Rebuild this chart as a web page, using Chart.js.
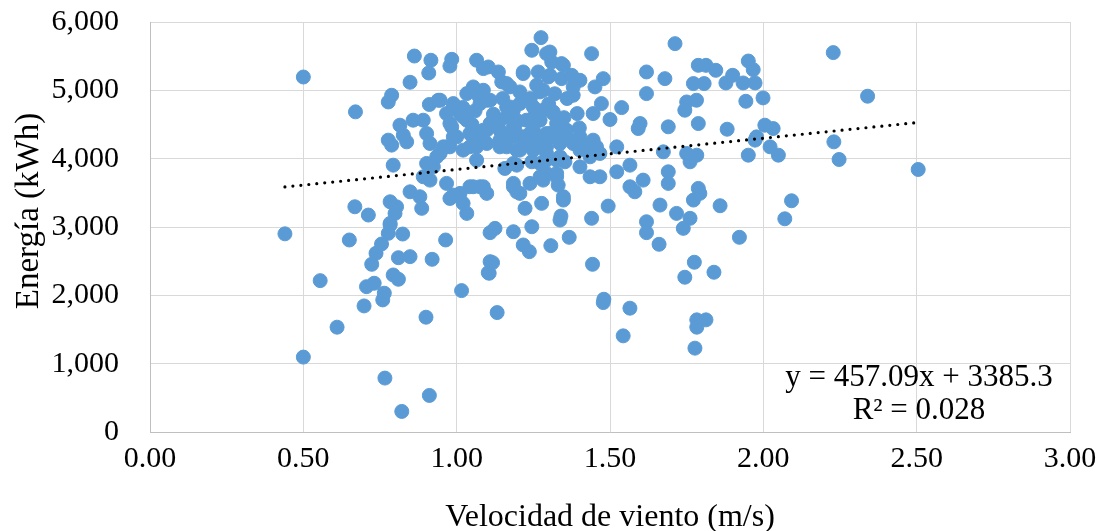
<!DOCTYPE html>
<html>
<head>
<meta charset="utf-8">
<script src="https://cdn.jsdelivr.net/npm/chart.js@4.4.1/dist/chart.umd.min.js"></script>
<style>
  html, body { margin: 0; padding: 0; background: #ffffff; }
  #wrap { width: 1105px; height: 531px; position: relative; }
</style>
</head>
<body>
<div id="wrap"><canvas id="c" width="1105" height="531"></canvas></div>
<script>
// Wind speed (m/s)
const windSpeed = [
  0.44,0.50,0.50,0.555,0.61,0.65,0.67,0.668,0.712,0.698,0.706,0.731,0.764,0.759,0.766,0.821,0.911,0.900,
  0.723,0.737,0.755,0.777,0.783,0.783,0.824,0.810,0.848,0.920,0.964,0.793,0.810,1.016,1.109,1.103,1.109,
  0.783,0.804,0.799,0.848,0.880,0.886,0.978,1.011,1.043,1.087,1.021,1.033,0.793,0.902,0.924,0.891,0.913,
  0.967,1.065,0.956,0.935,0.978,0.989,1.043,1.065,1.087,0.815,0.858,0.891,0.902,0.913,0.826,0.837,0.777,
  0.788,0.989,1.021,0.984,1.033,0.911,0.940,0.788,0.777,0.848,0.862,0.916,0.909,0.984,0.978,1.065,1.087,
  1.070,1.054,1.087,
  1.136,1.103,1.147,1.174,1.206,1.087,1.109,1.076,1.174,1.206,1.250,1.282,1.315,1.163,1.119,1.098,1.141,
  1.185,1.228,1.272,1.326,1.348,1.304,1.239,1.185,1.141,1.098,1.076,1.163,1.206,1.250,1.293,1.337,1.380,
  1.424,1.445,1.456,1.402,1.054,1.033,1.098,1.163,1.217,1.293,0.989,0.967,1.011,0.978,1.000,0.946,1.163,
  1.185,1.141,1.109,1.087,1.054,1.043,1.021,0.967,0.946,1.250,1.217,1.163,1.141,1.196,1.250,1.272,1.293,
  1.185,1.272,1.293,1.054,0.989,1.185,1.206,1.272,1.299,1.282,1.315,1.337,1.359,1.304,1.337,1.380,1.413,
  1.293,1.337,1.402,1.435,1.467,1.522,1.326,1.348,
  1.020,1.060,1.120,1.200,1.250,1.050,1.150,1.220,1.350,1.400,1.300,1.360,1.240,1.150,1.320,1.190,
  1.275,1.245,1.304,1.310,1.342,1.440,1.712,1.619,1.679,1.619,1.788,1.772,1.217,1.266,1.304,1.342,1.375,
  1.402,1.380,1.380,1.272,1.261,1.478,1.451,1.472,1.445,1.538,1.500,1.393,1.598,1.592,1.690,1.750,1.744,
  1.782,1.788,1.348,
  1.157,1.196,1.245,1.293,1.326,1.353,1.402,1.435,1.467,1.522,1.565,1.608,1.565,1.581,1.674,1.690,1.690,
  1.750,1.761,1.772,1.788,1.076,1.098,1.185,1.196,1.239,1.282,1.326,1.331,1.348,1.223,1.277,1.340,1.440,
  1.494,1.619,1.663,1.717,1.761,1.245,1.125,1.185,
  1.217,1.237,1.307,1.367,1.337,1.117,1.106,1.443,1.132,1.480,1.478,1.565,1.543,1.619,1.660,1.739,1.775,
  1.744,1.783,1.813,1.783,1.777,1.922,1.839,2.070,
  2.228,2.340,1.813,1.845,1.807,1.878,1.900,1.934,1.951,1.967,1.973,1.943,1.999,1.882,2.005,2.032,1.978,
  1.973,2.022,2.049,1.951,2.230,2.247,1.783,1.793,1.859,2.092,2.505
];
// Energy (kWh)
const energy = [
  2900,5195,1096,2215,1534,2810,4685,3296,3175,1845,2127,2177,2031,1933,789,301,535,1680,
  2454,2615,2751,2907,3029,3053,2897,2551,2566,2527,2810,2298,2235,2069,2917,2332,2493,
  3369,3296,3199,3515,3443,3273,3418,3492,3589,3589,3346,3199,3905,3930,3881,3735,3686,
  3638,3978,4173,4027,4173,4319,4368,4173,4271,4490,4563,4563,4368,4222,4344,4246,4271,
  4198,4757,4611,4465,4563,4793,4855,4928,4830,5118,5502,5440,5254,5454,5356,5440,5318,
  4930,5050,4903,
  5269,5342,5123,5050,4977,5001,4855,4806,4757,4806,4757,4709,4660,4611,4563,4417,4417,
  4466,4563,4563,4514,4417,4368,4368,4319,4271,4222,4319,4173,4125,4173,4173,4222,4222,
  4173,4271,4173,4319,5026,4952,4855,5099,5245,5537,4806,4660,4660,4514,4319,4855,4757,
  4709,4563,4514,4417,4319,4173,4125,4173,4076,4417,4319,4271,4173,4125,4125,4271,4368,
  3930,3930,3784,3589,3467,3589,3492,3735,5196,5001,4684,4466,4417,4319,4271,4271,4222,
  4076,4027,4125,4027,4076,4173,3784,3443,
  4750,4700,4650,4550,4600,4500,4350,4250,4600,4450,4800,4880,4880,4880,4950,4420,
  5771,5586,5561,5415,5391,5537,5683,5269,5171,4952,5366,5099,5269,5269,5220,5171,5220,
  5147,5050,4928,4977,5074,5171,5050,4806,4660,4747,4573,4660,4514,4441,4466,4830,4709,
  4855,4514,5366,
  3857,3905,3954,3978,3978,3954,3881,3735,3735,3808,3905,3686,3589,3515,4100,3808,3638,
  4076,3954,3394,3565,3589,3492,3638,3515,3638,3686,3735,3613,3394,3273,3346,3160,3127,
  3306,3077,3321,3199,3127,3004,2980,2931,
  2737,2639,2727,2849,3102,2478,2323,2454,1748,1943,1894,1812,1407,2917,2747,2980,2484,
  2265,1641,1641,1534,1227,2849,2338,3120,
  5552,4914,5366,5293,5099,5108,5220,5108,5429,5303,5108,4840,4889,4431,4490,4441,4319,
  4271,4173,4051,4051,4246,3988,4051,3492,3311,3384,3842
];
// Linear trendline (as printed on the chart)
const trendSlope = 457.09;
const trendIntercept = 3385.3;
const trendRange = [0.44, 2.50];
const equationLines = ['y = 457.09x + 3385.3', 'R² = 0.028'];
const xTitle = 'Velocidad de viento (m/s)';
const yTitle = 'Energía (kWh)';

const FONT = '"Liberation Serif", "Times New Roman", serif';
const scatterData = windSpeed.map((x, i) => ({ x: x, y: energy[i] }));
const trendData = trendRange.map(x => ({ x: x, y: trendSlope * x + trendIntercept }));

const overlayText = {
  id: 'overlayText',
  afterDraw(chart) {
    const ctx = chart.ctx;
    ctx.save();
    ctx.fillStyle = '#000000';
    ctx.font = '31px ' + FONT;
    ctx.textAlign = 'center';
    ctx.textBaseline = 'alphabetic';
    ctx.fillText(equationLines[0], 919, 386);
    ctx.fillText(equationLines[1], 919, 419);
    // y axis title
    ctx.font = '33px ' + FONT;
    ctx.translate(29, 211);
    ctx.rotate(-Math.PI / 2);
    ctx.textBaseline = 'middle';
    ctx.fillText(yTitle, 0, 0);
    ctx.restore();
  }
};

new Chart(document.getElementById('c'), {
  type: 'scatter',
  data: {
    datasets: [
      {
        type: 'line',
        data: trendData,
        borderColor: '#000000',
        borderWidth: 3.2,
        borderDash: [0, 8],
        borderCapStyle: 'round',
        pointRadius: 0,
        fill: false,
        tension: 0
      },
      {
        data: scatterData,
        backgroundColor: '#5B9BD5',
        borderColor: '#5B9BD5',
        borderWidth: 1,
        pointRadius: 7,
        pointHoverRadius: 7
      }
    ]
  },
  options: {
    responsive: false,
    animation: false,
    layout: { padding: { top: 22, right: 35, left: 0, bottom: 0 } },
    plugins: { legend: { display: false }, tooltip: { enabled: false } },
    scales: {
      x: {
        type: 'linear',
        min: 0, max: 3,
        ticks: {
          stepSize: 0.5,
          color: '#000',
          font: { family: FONT, size: 30 },
          padding: 9,
          maxRotation: 0,
          callback: v => Number(v).toFixed(2)
        },
        grid: { color: '#D9D9D9', lineWidth: 1, drawTicks: false },
        border: { color: '#BFBFBF', width: 1 },
        title: {
          display: true, text: xTitle, color: '#000',
          font: { family: FONT, size: 32, lineHeight: 0.85 },
          padding: { top: 0, bottom: 0 }
        },
        afterFit: s => { s.height = 99; s.paddingLeft = 0; s.paddingRight = 0; }
      },
      y: {
        min: 0, max: 6000,
        ticks: {
          stepSize: 1000,
          color: '#000',
          font: { family: FONT, size: 30 },
          padding: 31,
          callback: v => Number(v).toLocaleString('en-US')
        },
        grid: { color: '#D9D9D9', lineWidth: 1, drawTicks: false },
        border: { color: '#BFBFBF', width: 1 },
        afterFit: s => { s.width = 150; s.paddingTop = 0; s.paddingBottom = 0; }
      }
    }
  },
  plugins: [overlayText]
});
</script>
</body>
</html>
